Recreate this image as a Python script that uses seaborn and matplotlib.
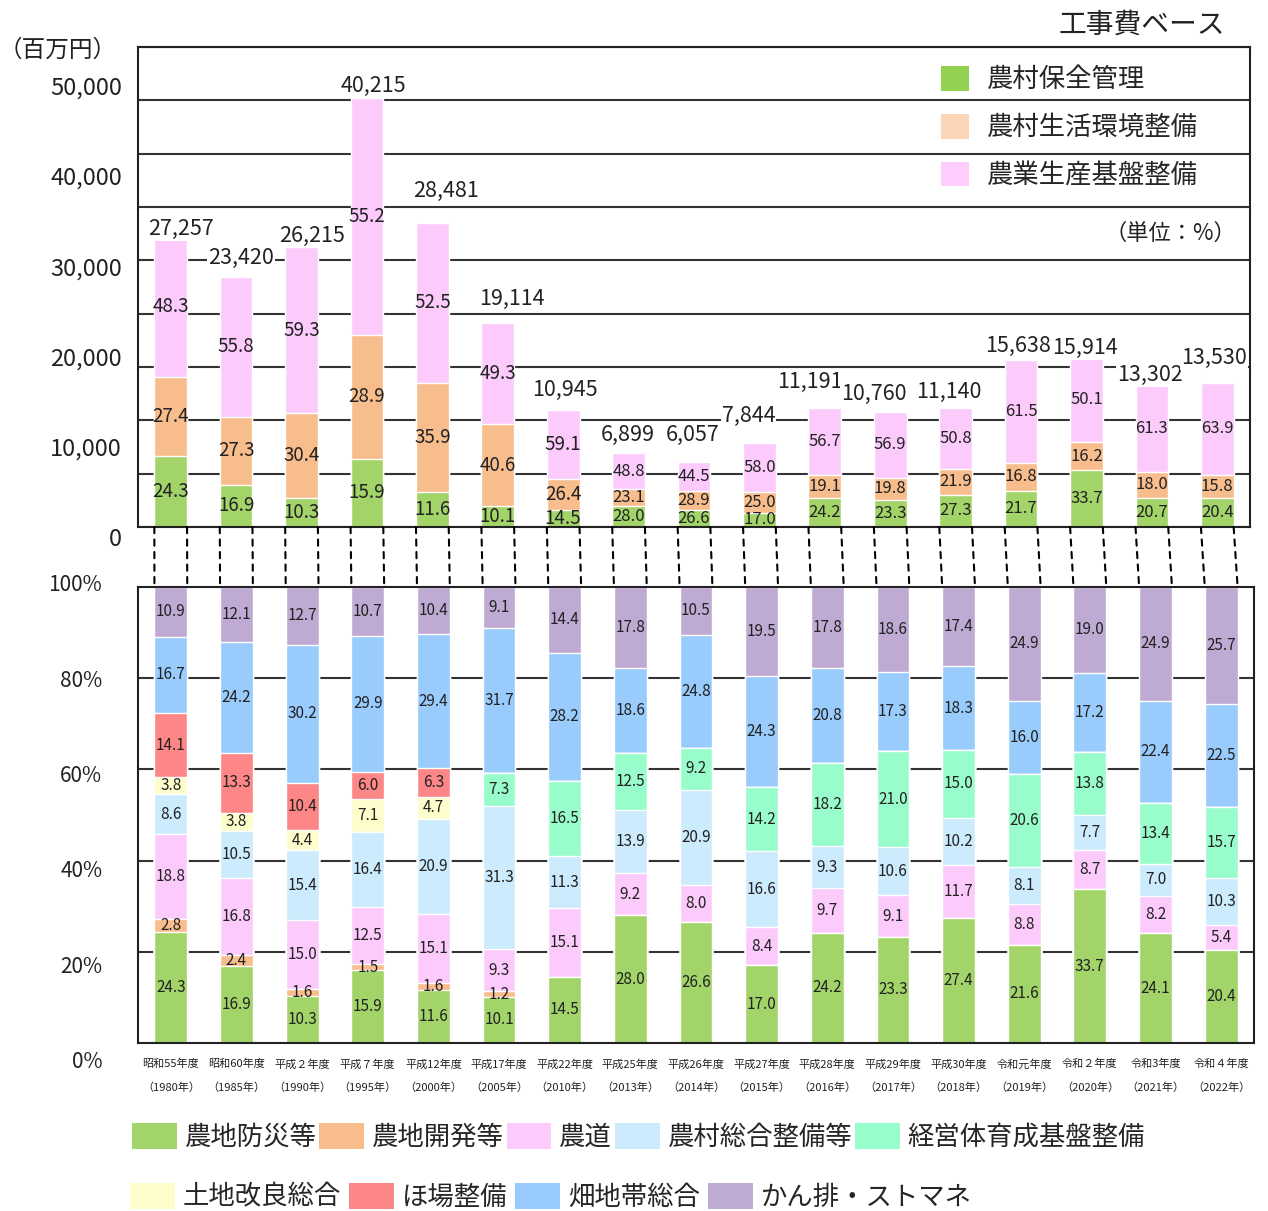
import matplotlib
matplotlib.use("Agg")
import matplotlib.pyplot as plt
from matplotlib.patches import Patch, ConnectionPatch
import seaborn as sns
import numpy as np

# ---- data -------------------------------------------------------------
year_labels = [
    "昭和55年度\n（1980年）", "昭和60年度\n（1985年）", "平成２年度\n（1990年）",
    "平成７年度\n（1995年）", "平成12年度\n（2000年）", "平成17年度\n（2005年）",
    "平成22年度\n（2010年）", "平成25年度\n（2013年）", "平成26年度\n（2014年）",
    "平成27年度\n（2015年）", "平成28年度\n（2016年）", "平成29年度\n（2017年）",
    "平成30年度\n（2018年）", "令和元年度\n（2019年）", "令和２年度\n（2020年）",
    "令和3年度\n（2021年）", "令和４年度\n（2022年）",
]

# top panel: total (million yen) and shares (%)
totals = [27257, 23420, 26215, 40215, 28481, 19114, 10945, 6899, 6057,
          7844, 11191, 10760, 11140, 15638, 15914, 13302, 13530]
hozen_kanri = [24.3, 16.9, 10.3, 15.9, 11.6, 10.1, 14.5, 28.0, 26.6,
               17.0, 24.2, 23.3, 27.3, 21.7, 33.7, 20.7, 20.4]
seikatsu_kankyo = [27.4, 27.3, 30.4, 28.9, 35.9, 40.6, 26.4, 23.1, 28.9,
                   25.0, 19.1, 19.8, 21.9, 16.8, 16.2, 18.0, 15.8]
seisan_kiban = [48.3, 55.8, 59.3, 55.2, 52.5, 49.3, 59.1, 48.8, 44.5,
                58.0, 56.7, 56.9, 50.8, 61.5, 50.1, 61.3, 63.9]
top_names = ["農村保全管理", "農村生活環境整備", "農業生産基盤整備"]

# bottom panel: shares (%) by project type, stacked bottom -> top
bousai = [24.3, 16.9, 10.3, 15.9, 11.6, 10.1, 14.5, 28.0, 26.6,
          17.0, 24.2, 23.3, 27.4, 21.6, 33.7, 24.1, 20.4]
kaihatsu = [2.8, 2.4, 1.6, 1.5, 1.6, 1.2, 0, 0, 0, 0, 0, 0, 0, 0, 0, 0, 0]
noudou = [18.8, 16.8, 15.0, 12.5, 15.1, 9.3, 15.1, 9.2, 8.0,
          8.4, 9.7, 9.1, 11.7, 8.8, 8.7, 8.2, 5.4]
noson_sougou = [8.6, 10.5, 15.4, 16.4, 20.9, 31.3, 11.3, 13.9, 20.9,
                16.6, 9.3, 10.6, 10.2, 8.1, 7.7, 7.0, 10.3]
keieitai = [0, 0, 0, 0, 0, 7.3, 16.5, 12.5, 9.2,
            14.2, 18.2, 21.0, 15.0, 20.6, 13.8, 13.4, 15.7]
tochi_kairyo = [3.8, 3.8, 4.4, 7.1, 4.7, 0, 0, 0, 0, 0, 0, 0, 0, 0, 0, 0, 0]
hojo = [14.1, 13.3, 10.4, 6.0, 6.3, 0, 0, 0, 0, 0, 0, 0, 0, 0, 0, 0, 0]
hatachi = [16.7, 24.2, 30.2, 29.9, 29.4, 31.7, 28.2, 18.6, 24.8,
           24.3, 20.8, 17.3, 18.3, 16.0, 17.2, 22.4, 22.5]
kanhai = [10.9, 12.1, 12.7, 10.7, 10.4, 9.1, 14.4, 17.8, 10.5,
          19.5, 17.8, 18.6, 17.4, 24.9, 19.0, 24.9, 25.7]
bot_names = ["農地防災等", "農地開発等", "農道", "農村総合整備等", "経営体育成基盤整備",
             "土地改良総合", "ほ場整備", "畑地帯総合", "かん排・ストマネ"]

top_ticks = [0, 10000, 20000, 30000, 40000, 50000]
bot_ticks = ["0%", "20%", "40%", "60%", "80%", "100%"]

# ---- styles -----------------------------------------------------------
top_colors = ["#A2D46A", "#F8BD8C", "#FCCBFC"]
top_legend_colors = ["#92D050", "#FBD5B5", "#FFCCFF"]
bot_colors = ["#A2D46A", "#F8BD8C", "#FCCBFC", "#CCEBFD", "#99FDCB",
              "#FEFECC", "#FD8686", "#99CBFC", "#BFAAD3"]
# offsets (px) of the total labels from the bar tops
total_dx = [10, 5, 10, 6, 14, 14, 2, -1, -1, -11, -15, -16, -7, -3, -2, -2, -3]
total_dy = [7, 19, 11, 12, 32, 24, 20, 18, 27, 27, 26, 18, 16, 14, 9, 10, 25]

sns.set_theme(style="white")
plt.rcParams["font.family"] = ["Noto Sans CJK JP", "DejaVu Sans"]
plt.rcParams["axes.unicode_minus"] = False

W, H = 1268, 1211
fig = plt.figure(figsize=(W / 100, H / 100), dpi=100)
ax_top = fig.add_axes([138 / W, 1 - 527 / H, 1112 / W, 480 / H])
ax_bot = fig.add_axes([138 / W, 1 - 1043 / H, 1116 / W, 456 / H])
n = len(totals)

# ---- top panel --------------------------------------------------------
shares = np.array([hozen_kanri, seikatsu_kankyo, seisan_kiban])
amounts = shares / 100 * np.array(totals)
cum = np.cumsum(amounts, axis=0)
for k in reversed(range(3)):
    sns.barplot(x=year_labels, y=cum[k], order=year_labels, color=top_colors[k],
                saturation=1, width=0.5, edgecolor="white", linewidth=1,
                errorbar=None, ax=ax_top)

for i in range(n):
    lower = 0
    fs = 13.5 if i < 7 else 12
    for k in range(3):
        ax_top.text(i, lower + amounts[k][i] / 2, f"{shares[k][i]:.1f}",
                    ha="center", va="center", fontsize=fs, color="#222222", zorder=5)
        lower += amounts[k][i]
    ax_top.annotate(f"{totals[i]:,}", xy=(i, totals[i]),
                    xytext=(total_dx[i], total_dy[i]), textcoords="offset pixels",
                    ha="center", va="center", fontsize=15.5, color="#222222", zorder=6,
                    bbox=dict(boxstyle="square,pad=0.05", fc="white", ec="none"))

ax_top.set_ylim(0, 45000)
ax_top.set_xlim(-0.5, n - 0.5)
ax_top.set_yticks(range(0, 45001, 5000))
ax_top.set_yticklabels([])
ax_top.set_xticks([])
ax_top.set_xlabel("")
ax_top.tick_params(length=0)
ax_top.set_axisbelow(True)
ax_top.yaxis.grid(True, color="#333333", linewidth=1.5)

# tick labels sit where the original chart put them
for j, v in enumerate(top_ticks):
    ax_top.text(-0.0144, -0.027 + j * 0.1884, f"{v:,}", transform=ax_top.transAxes,
                ha="right", va="center", fontsize=17, color="#222222")
ax_top.text(0.988, 0.6125, "（単位：%）", transform=ax_top.transAxes,
            ha="right", va="center", fontsize=16, color="#222222")

top_handles = [Patch(facecolor=c, edgecolor="none") for c in top_legend_colors]
ax_top.legend(top_handles, top_names, loc="upper left", bbox_to_anchor=(0.722, 0.96),
              frameon=False, fontsize=19, handlelength=1.05, handleheight=1.05,
              labelspacing=0.78, handletextpad=0.7, borderpad=0, borderaxespad=0)

# ---- bottom panel -----------------------------------------------------
bshares = np.array([bousai, kaihatsu, noudou, noson_sougou, keieitai,
                    tochi_kairyo, hojo, hatachi, kanhai])
bcum = np.cumsum(bshares, axis=0)
for k in reversed(range(len(bot_names))):
    sns.barplot(x=year_labels, y=bcum[k], order=year_labels, color=bot_colors[k],
                saturation=1, width=0.5, edgecolor="white", linewidth=1,
                errorbar=None, ax=ax_bot)

for i in range(n):
    lower = 0
    for k in range(len(bot_names)):
        v = bshares[k][i]
        if v > 0:
            ax_bot.text(i, lower + v / 2, f"{v:.1f}", ha="center", va="center",
                        fontsize=11, color="#222222", zorder=5)
        lower += v

ax_bot.set_ylim(0, 100)
ax_bot.set_xlim(-0.5, n - 0.5)
ax_bot.set_yticks([20, 40, 60, 80])
ax_bot.set_yticklabels([])
ax_bot.set_xticks(range(n))
ax_bot.set_xticklabels(year_labels, fontsize=8, linespacing=2.55, color="#222222")
ax_bot.tick_params(axis="x", length=0, pad=11.5)
ax_bot.tick_params(axis="y", length=0)
ax_bot.set_xlabel("")
ax_bot.set_axisbelow(True)
ax_bot.yaxis.grid(True, color="#333333", linewidth=1.5)

for j, lab in enumerate(bot_ticks):
    ax_bot.text(-0.032, -0.042 + j * 0.2092, lab, transform=ax_bot.transAxes,
                ha="right", va="center", fontsize=15, color="#222222")

for ax in (ax_top, ax_bot):
    for sp in ax.spines.values():
        sp.set_visible(True)
        sp.set_color("#222222")
        sp.set_linewidth(1.5)

# dashed connectors between the two panels
for i in range(n):
    for edge in (i - 0.25, i + 0.25):
        con = ConnectionPatch(xyA=(edge, 0), coordsA=ax_top.transData,
                              xyB=(edge, 100), coordsB=ax_bot.transData,
                              color="black", linewidth=1.5, linestyle=(0, (3, 3)))
        fig.add_artist(con)

# ---- texts and legend -------------------------------------------------
fig.text(1142 / W, 1 - 25 / H, "工事費ベース", ha="center", va="center",
         fontsize=20, color="#222222")
fig.text(58 / W, 1 - 50 / H, "（百万円）", ha="center", va="center",
         fontsize=17, color="#222222")

bot_handles = [Patch(facecolor=c, edgecolor="none") for c in bot_colors]
legend_kw = dict(frameon=False, fontsize=19, handlelength=1.7, handleheight=1.1,
                 handletextpad=0.3, borderpad=0, borderaxespad=0)
leg1 = fig.legend(bot_handles[:5], bot_names[:5], loc="center left",
                  bbox_to_anchor=(132 / W, 1 - 1137 / H), ncol=5,
                  columnspacing=0.1, **legend_kw)
leg2 = fig.legend(bot_handles[5:], bot_names[5:], loc="center left",
                  bbox_to_anchor=(130 / W, 1 - 1197 / H), ncol=4,
                  columnspacing=0.3, **legend_kw)

fig.savefig("out.png", dpi=100)
